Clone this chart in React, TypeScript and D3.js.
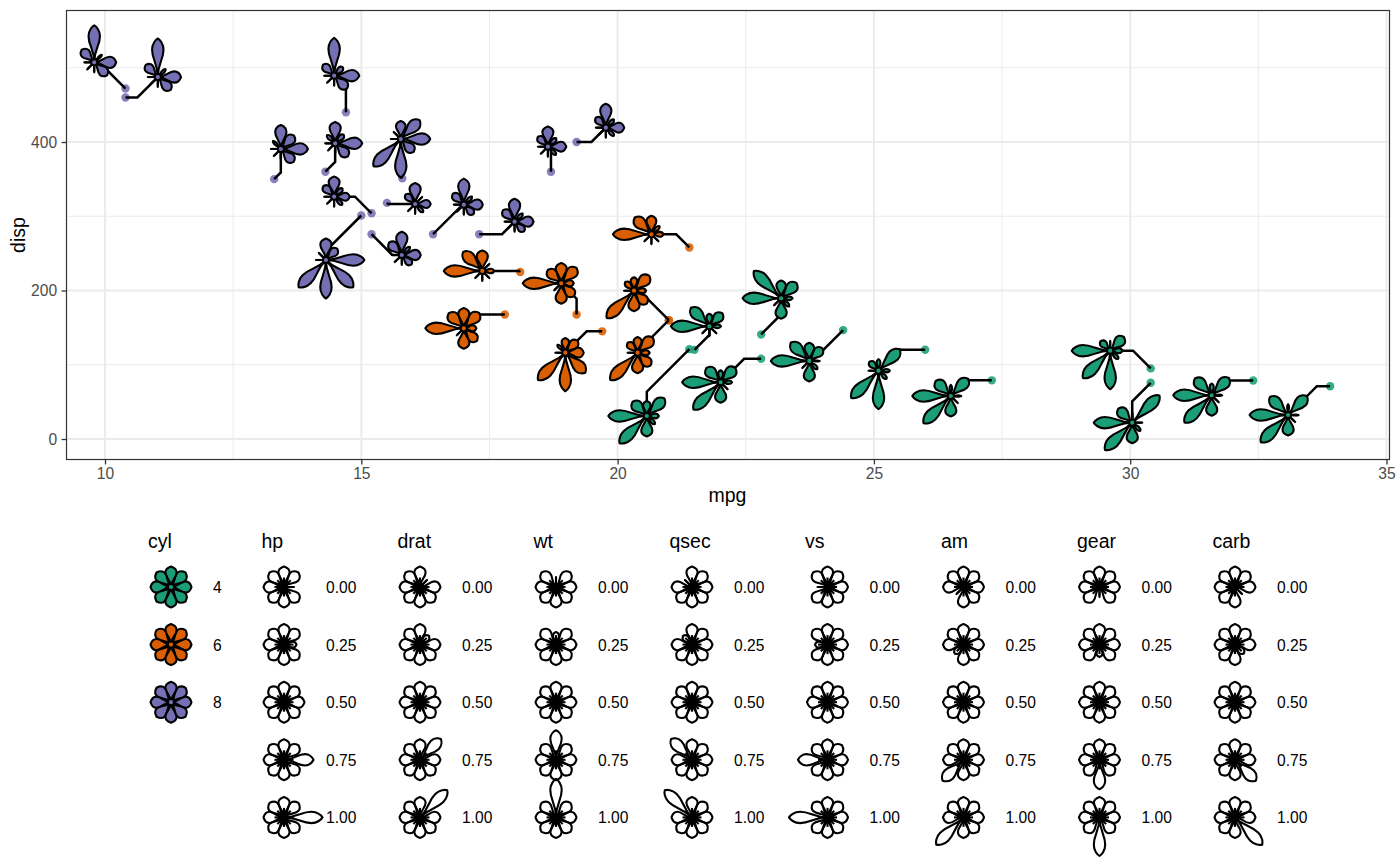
import { useEffect, useRef } from 'react';
import * as d3 from 'd3';

// mtcars, in the data set's own row order
const mpg = [21, 21, 22.8, 21.4, 18.7, 18.1, 14.3, 24.4, 22.8, 19.2, 17.8, 16.4, 17.3, 15.2, 10.4, 10.4, 14.7, 32.4, 30.4, 33.9, 21.5, 15.5, 15.2, 13.3, 19.2, 27.3, 26, 30.4, 15.8, 19.7, 15, 21.4];
const cyl = [6, 6, 4, 6, 8, 6, 8, 4, 4, 6, 6, 8, 8, 8, 8, 8, 8, 4, 4, 4, 4, 8, 8, 8, 8, 4, 4, 4, 8, 6, 8, 4];
const disp = [160, 160, 108, 258, 360, 225, 360, 146.7, 140.8, 167.6, 167.6, 275.8, 275.8, 275.8, 472, 460, 440, 78.7, 75.7, 71.1, 120.1, 318, 304, 350, 400, 79, 120.3, 95.1, 351, 145, 301, 121];
const hp = [110, 110, 93, 110, 175, 105, 245, 62, 95, 123, 123, 180, 180, 180, 205, 215, 230, 66, 52, 65, 97, 150, 150, 245, 175, 66, 91, 113, 264, 175, 335, 109];
const drat = [3.9, 3.9, 3.85, 3.08, 3.15, 2.76, 3.21, 3.69, 3.92, 3.92, 3.92, 3.07, 3.07, 3.07, 2.93, 3, 3.23, 4.08, 4.93, 4.22, 3.7, 2.76, 3.15, 3.73, 3.08, 4.08, 4.43, 3.77, 4.22, 3.62, 3.54, 4.11];
const wt = [2.62, 2.875, 2.32, 3.215, 3.44, 3.46, 3.57, 3.19, 3.15, 3.44, 3.44, 4.07, 3.73, 3.78, 5.25, 5.424, 5.345, 2.2, 1.615, 1.835, 2.465, 3.52, 3.435, 3.84, 3.845, 1.935, 2.14, 1.513, 3.17, 2.77, 3.57, 2.78];
const qsec = [16.46, 17.02, 18.61, 19.44, 17.02, 20.22, 15.84, 20, 22.9, 18.3, 18.9, 17.4, 17.6, 18, 17.98, 17.82, 17.42, 19.47, 18.52, 19.9, 20.01, 16.87, 17.3, 15.41, 17.05, 18.9, 16.7, 16.9, 14.5, 15.5, 14.6, 18.6];
const vs = [0, 0, 1, 1, 0, 1, 0, 1, 1, 1, 1, 0, 0, 0, 0, 0, 0, 1, 1, 1, 1, 0, 0, 0, 0, 1, 0, 1, 0, 0, 0, 1];
const am = [1, 1, 1, 0, 0, 0, 0, 0, 0, 0, 0, 0, 0, 0, 0, 0, 0, 1, 1, 1, 0, 0, 0, 0, 0, 1, 1, 1, 1, 1, 1, 1];
const gear = [4, 4, 4, 3, 3, 3, 3, 4, 4, 4, 4, 3, 3, 3, 3, 3, 3, 4, 4, 4, 3, 3, 3, 3, 3, 4, 5, 5, 5, 5, 5, 4];
const carb = [4, 4, 1, 1, 2, 1, 4, 2, 2, 4, 4, 3, 3, 3, 4, 4, 4, 1, 2, 1, 1, 2, 2, 4, 2, 1, 2, 2, 4, 6, 8, 2];

// where each flower was pushed to, in data units
const flowerMpg = [20.32, 20.39, 22.01, 20.66, 18.64, 17.36, 14.49, 23.74, 23.19, 18.9, 17.0, 17.0, 17.99, 15.79, 9.79, 11.03, 14.47, 31.59, 30.04, 33.08, 21.79, 16.05, 14.47, 13.43, 19.77, 26.5, 25.09, 29.61, 15.77, 18.98, 14.31, 20.57];
const flowerDisp = [199.7, 116.2, 76.4, 275.7, 393.7, 226.3, 398.2, 105.1, 189.5, 209.7, 149.1, 315.6, 292.7, 247.8, 507.3, 487.5, 489.3, 58.9, 22, 32.3, 151.8, 316.5, 326.3, 390.6, 419.3, 57.9, 92, 118.9, 404, 116.2, 241.1, 31];
// does the diagonal part of the leader start at the point (1) or at the flower (0)
const diagAtPoint = [1, 1, 0, 1, 0, 1, 1, 1, 1, 0, 0, 1, 0, 1, 1, 0, 0, 0, 1, 0, 1, 1, 1, 1, 0, 0, 0, 1, 1, 0, 1, 1];

const petalVars = ['hp', 'drat', 'wt', 'qsec', 'vs', 'am', 'gear', 'carb'];
const petalCols = [hp, drat, wt, qsec, vs, am, gear, carb];
const cylLevels = [4, 6, 8];
const cylColours = ['#1b9e77', '#d95f02', '#7570b3'];
const legendValues = [0, 0.25, 0.5, 0.75, 1];

const xTicks = [10, 15, 20, 25, 30, 35];
const xMinor = [12.5, 17.5, 22.5, 27.5, 32.5];
const yTicks = [0, 200, 400];
const yMinor = [100, 300, 500];

const FONT = '"Liberation Sans", Arial, sans-serif';
const TITLE_SIZE = 19.5;
const LABEL_SIZE = 15.6;
const panel = { left: 66.5, top: 10.5, right: 1389.5, bottom: 459.5 };

const x = d3.scaleLinear().domain([10, 35]).range([105, 1386.5]);
const y = d3.scaleLinear().domain([0, 400]).range([439, 142]);
const colour = d3.scaleOrdinal<number, string>().domain(cylLevels).range(cylColours);

// petal length and half width as functions of the 0-1 value
const petalLength = d3.scaleLinear().domain([0, 0.25, 0.5, 0.75, 1]).range([10, 12.5, 20.5, 29.5, 38.5]);
const petalHalf = d3.scaleLinear().domain([0, 0.25, 0.5, 0.75, 1]).range([0, 3, 5.6, 5.7, 5.7]);

function petalPath(v: number) {
    const L = petalLength(v);
    const w = petalHalf(v);
    const p = d3.path();
    p.moveTo(0, 0);
    p.bezierCurveTo(0.36 * L, 0, 0.44 * L, w, 0.71 * L, w);
    p.bezierCurveTo(0.87 * L, w, 0.97 * L, 0.35 * w, L, 0);
    p.bezierCurveTo(0.97 * L, -0.35 * w, 0.87 * L, -w, 0.71 * L, -w);
    p.bezierCurveTo(0.44 * L, -w, 0.36 * L, 0, 0, 0);
    p.closePath();
    return p.toString();
}

function leaderPath(i: number) {
    const px = x(mpg[i]);
    const py = y(disp[i]);
    const fx = x(flowerMpg[i]);
    const fy = y(flowerDisp[i]);
    const d = Math.min(Math.abs(fx - px), Math.abs(fy - py));
    const sx = Math.sign(fx - px) * d;
    const sy = Math.sign(fy - py) * d;
    const p = d3.path();
    p.moveTo(px, py);
    if (diagAtPoint[i]) p.lineTo(px + sx, py + sy);
    else p.lineTo(fx - sx, fy - sy);
    p.lineTo(fx, fy);
    return p.toString();
}

interface FlowerProps {
    cx: number;
    cy: number;
    fill: string;
    values: number[];
}

function Flower({ cx, cy, fill, values }: FlowerProps) {
    return (
        <g transform={`translate(${cx},${cy})`}>
            {/* every petal sits on a short spike, which is all that is left at value 0 */}
            {values.map((_, k) => (
                <line key={k} stroke="#000" strokeWidth={2.1} transform={`rotate(${-45 * k})`} x2={9.5} />
            ))}
            {values.map((v, k) => (
                <path
                    d={petalPath(v)}
                    fill={fill}
                    key={k}
                    stroke="#000"
                    strokeLinejoin="round"
                    strokeWidth={2.1}
                    transform={`rotate(${-45 * k})`}
                />
            ))}
            <circle fill={fill} r={3} stroke="#000" strokeWidth={1.8} />
        </g>
    );
}

const legendTop = 587;
const legendStep = 57.6;
const legendCols = [171, 284, 420, 556, 692, 827.5, 963.5, 1099.5, 1235];

function Legend() {
    const text = { fontFamily: FONT };
    return (
        <g>
            <text {...text} fontSize={TITLE_SIZE} x={148} y={548}>cyl</text>
            {cylLevels.map((c, i) => (
                <g key={c}>
                    <Flower
                        cx={legendCols[0]}
                        cy={legendTop + i * legendStep}
                        fill={colour(c)}
                        values={petalVars.map(() => 0.5)}
                    />
                    <text {...text} fontSize={LABEL_SIZE} x={213} y={legendTop + i * legendStep + 6}>
                        {c}
                    </text>
                </g>
            ))}
            {petalVars.map((name, k) => {
                const cx = legendCols[k + 1];
                return (
                    <g key={name}>
                        <text {...text} fontSize={TITLE_SIZE} x={cx - 22.5} y={548}>{name}</text>
                        {legendValues.map((v, i) => (
                            <g key={v}>
                                <Flower
                                    cx={cx}
                                    cy={legendTop + i * legendStep}
                                    fill="none"
                                    values={petalVars.map((_, j) => (j === k ? v : 0.5))}
                                />
                                <text {...text} fontSize={LABEL_SIZE} x={cx + 42} y={legendTop + i * legendStep + 6}>
                                    {v.toFixed(2)}
                                </text>
                            </g>
                        ))}
                    </g>
                );
            })}
        </g>
    );
}

export default function App() {
    const xAxisEl = useRef<SVGGElement>(null);
    const yAxisEl = useRef<SVGGElement>(null);

    useEffect(() => {
        const style = (g: any) => {
            g.select('.domain').remove();
            g.selectAll('.tick line').attr('stroke', '#333333').attr('stroke-width', 1.3);
            g.selectAll('.tick text')
                .attr('fill', '#4d4d4d')
                .attr('font-family', FONT)
                .attr('font-size', LABEL_SIZE);
        };
        if (xAxisEl.current)
            d3.select(xAxisEl.current)
                .call(d3.axisBottom(x).tickValues(xTicks).tickSize(4.9).tickPadding(4))
                .call(style);
        if (yAxisEl.current)
            d3.select(yAxisEl.current)
                .call(d3.axisLeft(y).tickValues(yTicks).tickSize(4.9).tickPadding(4.5))
                .call(style);
    }, []);

    const scaled = petalCols.map((col) =>
        d3.scaleLinear().domain(d3.extent(col) as [number, number]).range([0, 1])
    );

    return (
        <svg
            height={866}
            style={{ left: 0, position: 'absolute', top: 0 }}
            viewBox="0 0 1400 866"
            width={1400}
        >
            <rect fill="#fff" height={866} width={1400} />
            <g stroke="#ebebeb">
                {xMinor.map((d) => (
                    <line key={d} strokeWidth={1} x1={x(d)} x2={x(d)} y1={panel.top} y2={panel.bottom} />
                ))}
                {yMinor.map((d) => (
                    <line key={d} strokeWidth={1} x1={panel.left} x2={panel.right} y1={y(d)} y2={y(d)} />
                ))}
                {xTicks.map((d) => (
                    <line key={d} strokeWidth={2} x1={x(d)} x2={x(d)} y1={panel.top} y2={panel.bottom} />
                ))}
                {yTicks.map((d) => (
                    <line key={d} strokeWidth={2} x1={panel.left} x2={panel.right} y1={y(d)} y2={y(d)} />
                ))}
            </g>
            {mpg.map((d, i) => (
                <circle cx={x(d)} cy={y(disp[i])} fill={colour(cyl[i])} fillOpacity={0.88} key={i} r={4.2} />
            ))}
            {mpg.map((_, i) => (
                <path d={leaderPath(i)} fill="none" key={i} stroke="#000" strokeWidth={2.5} />
            ))}
            {mpg.map((_, i) => (
                <Flower
                    cx={x(flowerMpg[i])}
                    cy={y(flowerDisp[i])}
                    fill={colour(cyl[i])}
                    key={i}
                    values={scaled.map((s, k) => s(petalCols[k][i]))}
                />
            ))}
            <rect
                fill="none"
                height={panel.bottom - panel.top}
                stroke="#333333"
                strokeWidth={1.2}
                width={panel.right - panel.left}
                x={panel.left}
                y={panel.top}
            />
            <g ref={xAxisEl} transform={`translate(0, ${panel.bottom})`} />
            <g ref={yAxisEl} transform={`translate(${panel.left}, 0)`} />
            <text fontFamily={FONT} fontSize={TITLE_SIZE} textAnchor="middle" x={727.5} y={502}>mpg</text>
            <text
                fontFamily={FONT}
                fontSize={TITLE_SIZE}
                textAnchor="middle"
                transform="translate(25, 235) rotate(-90)"
            >
                disp
            </text>
            <Legend />
        </svg>
    );
}
